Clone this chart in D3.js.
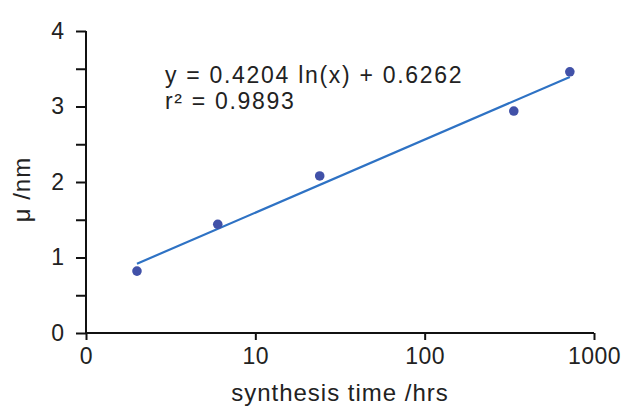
<!DOCTYPE html>
<html>
<head>
<meta charset="utf-8">
<script src="https://cdn.jsdelivr.net/npm/d3@7"></script>
<style>
  body { margin: 0; background: #fff; }
  text { font-family: "Liberation Sans", Arial, sans-serif; fill: #222; }
</style>
</head>
<body>
<div id="chart"></div>
<script>
// Data
const times = [2, 6, 24, 336, 720];          // synthesis time /hrs
const sizes = [0.82, 1.44, 2.08, 2.94, 3.46]; // mu /nm
const fitSlope = 0.4204, fitIntercept = 0.6262;
const fitRange = [2, 720];
const xTicks = [1, 10, 100, 1000];
const xTickLabels = ["0", "10", "100", "1000"];
const yTicks = [0, 0.5, 1, 1.5, 2, 2.5, 3, 3.5, 4];
const equationLines = ["y = 0.4204 ln(x) + 0.6262", "r² = 0.9893"];

const W = 622, H = 407;
const margin = {top: 31, right: 28, bottom: 74, left: 86};

const svg = d3.select("#chart").append("svg")
    .attr("width", W).attr("height", H);
svg.append("rect").attr("width", W).attr("height", H).attr("fill", "#fff");

const x = d3.scaleLog().domain([1, 1000]).range([margin.left, W - margin.right]);
const y = d3.scaleLinear().domain([0, 4]).range([H - margin.bottom, margin.top]);

// X axis
const xAxis = svg.append("g")
    .attr("transform", `translate(0,${y(0)})`)
    .call(d3.axisBottom(x).tickValues(xTicks).tickSize(7).tickPadding(8)
        .tickFormat((d, i) => xTickLabels[i]));
xAxis.select(".domain").attr("stroke", "#111").attr("stroke-width", 2)
    .attr("d", `M${x(1)},0H${x(1000)}`);
xAxis.selectAll(".tick line").attr("stroke", "#111").attr("stroke-width", 2);
xAxis.selectAll(".tick text").style("font-size", "23px").style("letter-spacing", "0.5px")
    .attr("fill", "#222");

// Y axis (unlabelled ticks at the halves)
const yAxis = svg.append("g")
    .attr("transform", `translate(${x(1)},0)`)
    .call(d3.axisLeft(y).tickValues(yTicks).tickSize(10).tickPadding(12)
        .tickFormat(d => Number.isInteger(d) ? d : ""));
yAxis.select(".domain").attr("stroke", "#111").attr("stroke-width", 2)
    .attr("d", `M0,${y(4)}V${y(0)}`);
yAxis.selectAll(".tick line").attr("stroke", "#111").attr("stroke-width", 2);
yAxis.selectAll(".tick text").style("font-size", "23px").attr("fill", "#222");

// Axis titles
svg.append("text")
    .attr("x", (x(1) + x(1000)) / 2).attr("y", 401)
    .attr("text-anchor", "middle")
    .style("font-size", "24px").style("letter-spacing", "1px")
    .text("synthesis time /hrs");

svg.append("text")
    .attr("transform", `translate(30,${y(1.9)}) rotate(-90)`)
    .attr("text-anchor", "middle")
    .style("font-size", "24px").style("letter-spacing", "1px")
    .text("μ /nm");

// Trend line
const fit = fitRange.map(t => [t, fitSlope * Math.log(t) + fitIntercept]);
svg.append("path")
    .datum(fit)
    .attr("fill", "none")
    .attr("stroke", "#2e72c4")
    .attr("stroke-width", 2.2)
    .attr("d", d3.line().x(d => x(d[0])).y(d => y(d[1])));

// Points
svg.append("g")
    .selectAll("circle")
    .data(times.map((t, i) => [t, sizes[i]]))
    .enter()
    .append("circle")
    .attr("cx", d => x(d[0]))
    .attr("cy", d => y(d[1]))
    .attr("r", 4.8)
    .attr("fill", "#4151a8");

// Equation label
svg.append("g").selectAll("text")
    .data(equationLines)
    .enter()
    .append("text")
    .attr("x", 165)
    .attr("y", (d, i) => 83 + i * 26)
    .style("font-size", "23px").style("letter-spacing", "1.7px")
    .text(d => d);
</script>
</body>
</html>
